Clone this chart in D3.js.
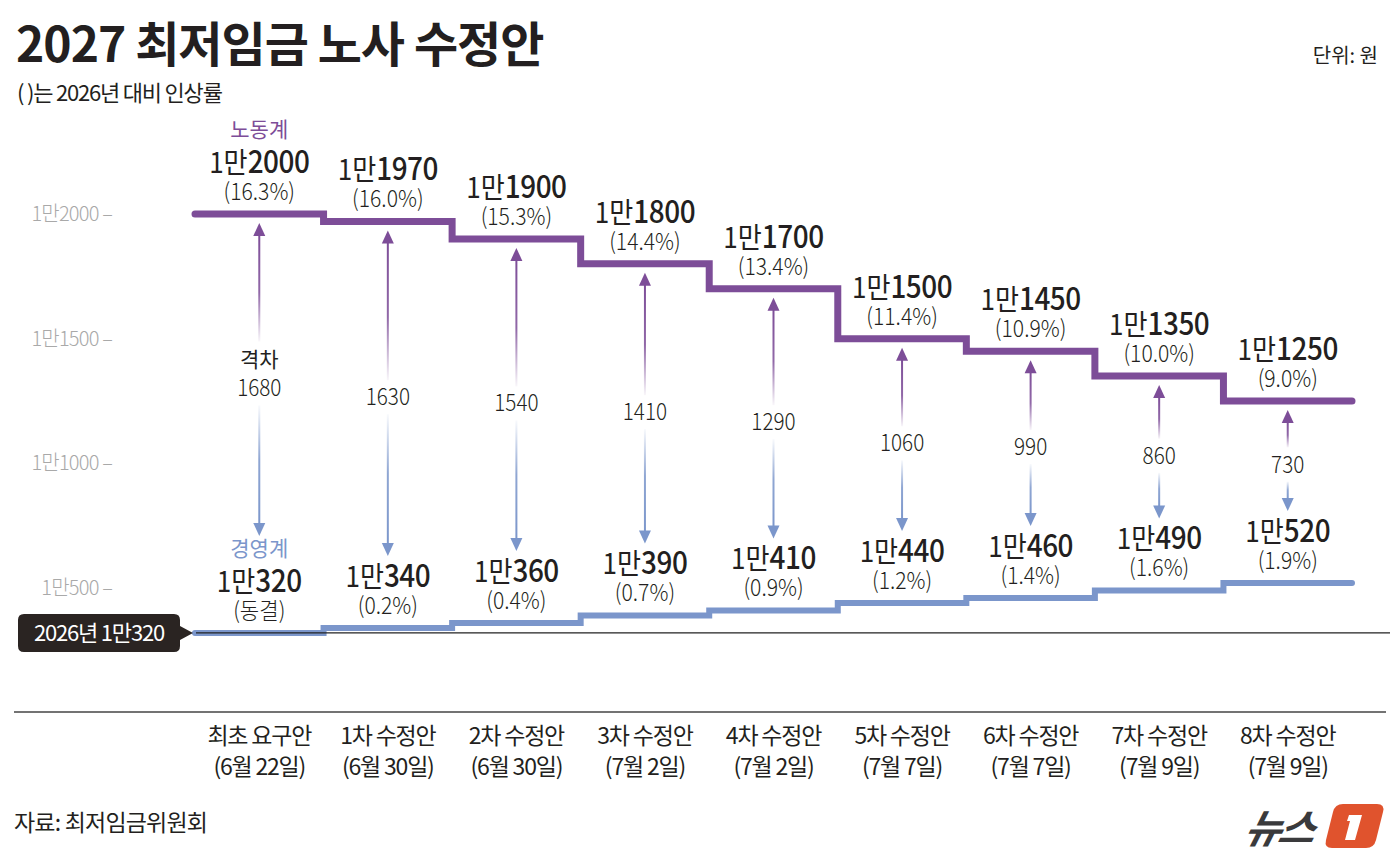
<!DOCTYPE html>
<html>
<head>
<meta charset="utf-8">
<script src="https://cdn.jsdelivr.net/npm/d3@7"></script>
<style>
  body { margin: 0; background: #fff; }
  svg { display: block; font-family: "Noto Sans CJK KR", "Noto Sans", sans-serif; }
</style>
</head>
<body>
<svg id="chart" width="1400" height="863"></svg>
<script>
// data
const stages = ["최초 요구안", "1차 수정안", "2차 수정안", "3차 수정안", "4차 수정안", "5차 수정안", "6차 수정안", "7차 수정안", "8차 수정안"];
const dates = ["(6월 22일)", "(6월 30일)", "(6월 30일)", "(7월 2일)", "(7월 2일)", "(7월 7일)", "(7월 7일)", "(7월 9일)", "(7월 9일)"];
const labor = [12000, 11970, 11900, 11800, 11700, 11500, 11450, 11350, 11250];
const laborRate = ["16.3%", "16.0%", "15.3%", "14.4%", "13.4%", "11.4%", "10.9%", "10.0%", "9.0%"];
const mgmt = [10320, 10340, 10360, 10390, 10410, 10440, 10460, 10490, 10520];
const mgmtRate = ["동결", "0.2%", "0.4%", "0.7%", "0.9%", "1.2%", "1.4%", "1.6%", "1.9%"];
const base2026 = 10320;
const yTicks = [10500, 11000, 11500, 12000];

const purple = "#7d4d98";
const blue = "#7b96cb";
const ink = "#231f20";

const svg = d3.select("#chart");

const x = d3.scaleBand().domain(stages).range([195, 1352]).paddingInner(0).paddingOuter(0);
const y = d3.scaleLinear().domain([10500, 12000]).range([588, 214]);
const bw = x.bandwidth();
const cx = s => x(s) + bw / 2;
const won = v => "1만" + (v - 10000);

// gradients for arrows
const defs = svg.append("defs");
const g1 = defs.append("linearGradient").attr("id", "fadePurple").attr("x1", 0).attr("y1", 0).attr("x2", 0).attr("y2", 1);
g1.append("stop").attr("offset", "0").attr("stop-color", purple).attr("stop-opacity", 1);
g1.append("stop").attr("offset", "0.55").attr("stop-color", purple).attr("stop-opacity", 0.85);
g1.append("stop").attr("offset", "1").attr("stop-color", purple).attr("stop-opacity", 0.05);
const g2 = defs.append("linearGradient").attr("id", "fadeBlue").attr("x1", 0).attr("y1", 0).attr("x2", 0).attr("y2", 1);
g2.append("stop").attr("offset", "0").attr("stop-color", blue).attr("stop-opacity", 0.05);
g2.append("stop").attr("offset", "0.45").attr("stop-color", blue).attr("stop-opacity", 0.85);
g2.append("stop").attr("offset", "1").attr("stop-color", blue).attr("stop-opacity", 1);

// title
svg.append("text").attr("x", 16).attr("y", 62)
    .attr("font-size", 48).attr("font-weight", 700).attr("fill", ink)
    .attr("letter-spacing", -1)
    .text("2027 최저임금 노사 수정안");
svg.append("text").attr("x", 17).attr("y", 101)
    .attr("font-size", 22).attr("fill", ink).attr("letter-spacing", -1.2)
    .text("( )는 2026년 대비 인상률");
svg.append("text").attr("x", 1378).attr("y", 63).attr("text-anchor", "end")
    .attr("font-size", 20).attr("fill", ink)
    .text("단위: 원");

// y axis labels
svg.append("g").selectAll("text")
    .data(yTicks)
    .join("text")
    .attr("x", 112).attr("y", d => y(d) + 7)
    .attr("text-anchor", "end")
    .attr("font-size", 20).attr("font-weight", 300).attr("fill", "#a9a9a9")
    .attr("letter-spacing", -0.8)
    .text(d => won(d) + "  –");

// step lines
function stepPoints(vals) {
    const pts = stages.map((s, i) => [x(s), y(vals[i])]);
    pts.push([x(stages[stages.length - 1]) + bw, y(vals[vals.length - 1])]);
    return pts;
}
const stepLine = d3.line().curve(d3.curveStepAfter);

svg.append("path").attr("d", stepLine(stepPoints(mgmt)))
    .attr("fill", "none").attr("stroke", blue).attr("stroke-width", 6)
    .attr("stroke-linecap", "round");

// baseline 2026
svg.append("line")
    .attr("x1", 196).attr("x2", 1390)
    .attr("y1", y(base2026)).attr("y2", y(base2026))
    .attr("stroke", "#222").attr("stroke-width", 1.2);

svg.append("path").attr("d", stepLine(stepPoints(labor)))
    .attr("fill", "none").attr("stroke", purple).attr("stroke-width", 7)
    .attr("stroke-linecap", "round");

// baseline label
const by = y(base2026);
svg.append("path")
    .attr("d", `M24,${by - 19} H174 Q180,${by - 19} 180,${by - 13} V${by - 7} L193,${by} L180,${by + 7} V${by + 13} Q180,${by + 19} 174,${by + 19} H24 Q18,${by + 19} 18,${by + 13} V${by - 13} Q18,${by - 19} 24,${by - 19} Z`)
    .attr("fill", "#2a2422");
svg.append("text").attr("x", 99).attr("y", by + 8).attr("text-anchor", "middle")
    .attr("font-size", 22).attr("fill", "#fff").attr("letter-spacing", -1.2)
    .text("2026년 " + won(base2026));

// value labels
function valueLabel(s, v, rate, lineY) {
    const g = svg.append("g");
    const t = g.append("text")
        .attr("transform", `translate(${cx(s)},${lineY - 41}) scale(0.9,1)`)
        .attr("text-anchor", "middle").attr("fill", ink);
    t.append("tspan").attr("font-size", 29).attr("font-weight", 400).text("1만");
    t.append("tspan").attr("font-size", 31).attr("font-weight", 500).attr("letter-spacing", -0.5).text(v - 10000);
    g.append("text")
        .attr("transform", `translate(${cx(s)},${lineY - 14}) scale(0.92,1)`)
        .attr("text-anchor", "middle").attr("fill", ink)
        .attr("font-size", 23).attr("font-weight", 300)
        .text("(" + rate + ")");
}
stages.forEach((s, i) => {
    valueLabel(s, labor[i], laborRate[i], y(labor[i]));
    valueLabel(s, mgmt[i], mgmtRate[i], y(mgmt[i]));
});

// series names
svg.append("text").attr("x", cx(stages[0])).attr("y", y(labor[0]) - 77)
    .attr("text-anchor", "middle").attr("font-size", 21).attr("fill", purple)
    .text("노동계");
svg.append("text").attr("x", cx(stages[0])).attr("y", y(mgmt[0]) - 77)
    .attr("text-anchor", "middle").attr("font-size", 21).attr("fill", blue)
    .text("경영계");

// gap arrows
stages.forEach((s, i) => {
    const ax = cx(s);
    const top = y(labor[i]) + 9;
    const bot = y(mgmt[i]) - (i === 0 ? 97 : 72);
    const mid = (top + bot) / 2 + 4;
    const lTop = i === 0 ? mid - 42 : mid - 17;
    const lBot = i === 0 ? mid + 22 : mid + 17;
    const g = svg.append("g");
    g.append("rect").attr("x", ax - 1).attr("width", 2)
        .attr("y", top + 10).attr("height", Math.max(0, lTop - top - 10))
        .attr("fill", "url(#fadePurple)");
    g.append("rect").attr("x", ax - 1).attr("width", 2)
        .attr("y", lBot).attr("height", Math.max(0, bot - 10 - lBot))
        .attr("fill", "url(#fadeBlue)");
    g.append("path").attr("d", `M${ax},${top} L${ax + 6},${top + 13} L${ax - 6},${top + 13} Z`).attr("fill", purple);
    g.append("path").attr("d", `M${ax},${bot} L${ax + 6},${bot - 13} L${ax - 6},${bot - 13} Z`).attr("fill", blue);
    const gap = labor[i] - mgmt[i];
    if (i === 0) {
        g.append("text").attr("x", ax).attr("y", mid - 16).attr("text-anchor", "middle")
            .attr("font-size", 21).attr("fill", ink).text("격차");
        g.append("text").attr("transform", `translate(${ax},${mid + 13}) scale(0.9,1)`).attr("text-anchor", "middle")
            .attr("font-size", 23).attr("font-weight", 300).attr("fill", ink).text(gap);
    } else {
        g.append("text").attr("transform", `translate(${ax},${mid + 8}) scale(0.9,1)`).attr("text-anchor", "middle")
            .attr("font-size", 23).attr("font-weight", 300).attr("fill", ink).text(gap);
    }
});

// bottom axis
svg.append("line").attr("x1", 14).attr("x2", 1386).attr("y1", 712).attr("y2", 712)
    .attr("stroke", "#444").attr("stroke-width", 1.5);
const xl = svg.append("g").selectAll("g").data(stages).join("g")
    .attr("transform", d => `translate(${cx(d)},0)`);
xl.append("text").attr("y", 744).attr("text-anchor", "middle")
    .attr("font-size", 23).attr("fill", ink).attr("letter-spacing", -1.2)
    .text(d => d);
xl.append("text").attr("y", 775).attr("text-anchor", "middle")
    .attr("font-size", 23).attr("fill", ink).attr("letter-spacing", -1.2)
    .text((d, i) => dates[i]);

// source
svg.append("text").attr("x", 14).attr("y", 831)
    .attr("font-size", 23).attr("fill", ink).attr("letter-spacing", -0.8)
    .text("자료: 최저임금위원회");

// logo
const logo = svg.append("g").attr("transform", "translate(1245,800)");
logo.append("text").attr("x", 8).attr("y", 43)
    .attr("font-size", 40).attr("font-weight", 700).attr("font-style", "italic")
    .attr("fill", "#3a3a3c").attr("letter-spacing", -3)
    .attr("transform", "skewX(-14)")
    .text("뉴스");
logo.append("path")
    .attr("d", "M98,4 H132 Q140,4 138,12 L131,40 Q129,48 121,48 H87 Q79,48 81,40 L88,12 Q90,4 98,4 Z")
    .attr("fill", "#e0532d");
logo.append("path")
    .attr("d", "M104,15 H117 L110,40 H100 L105,21 H102 Z")
    .attr("fill", "#fff");
</script>
</body>
</html>
